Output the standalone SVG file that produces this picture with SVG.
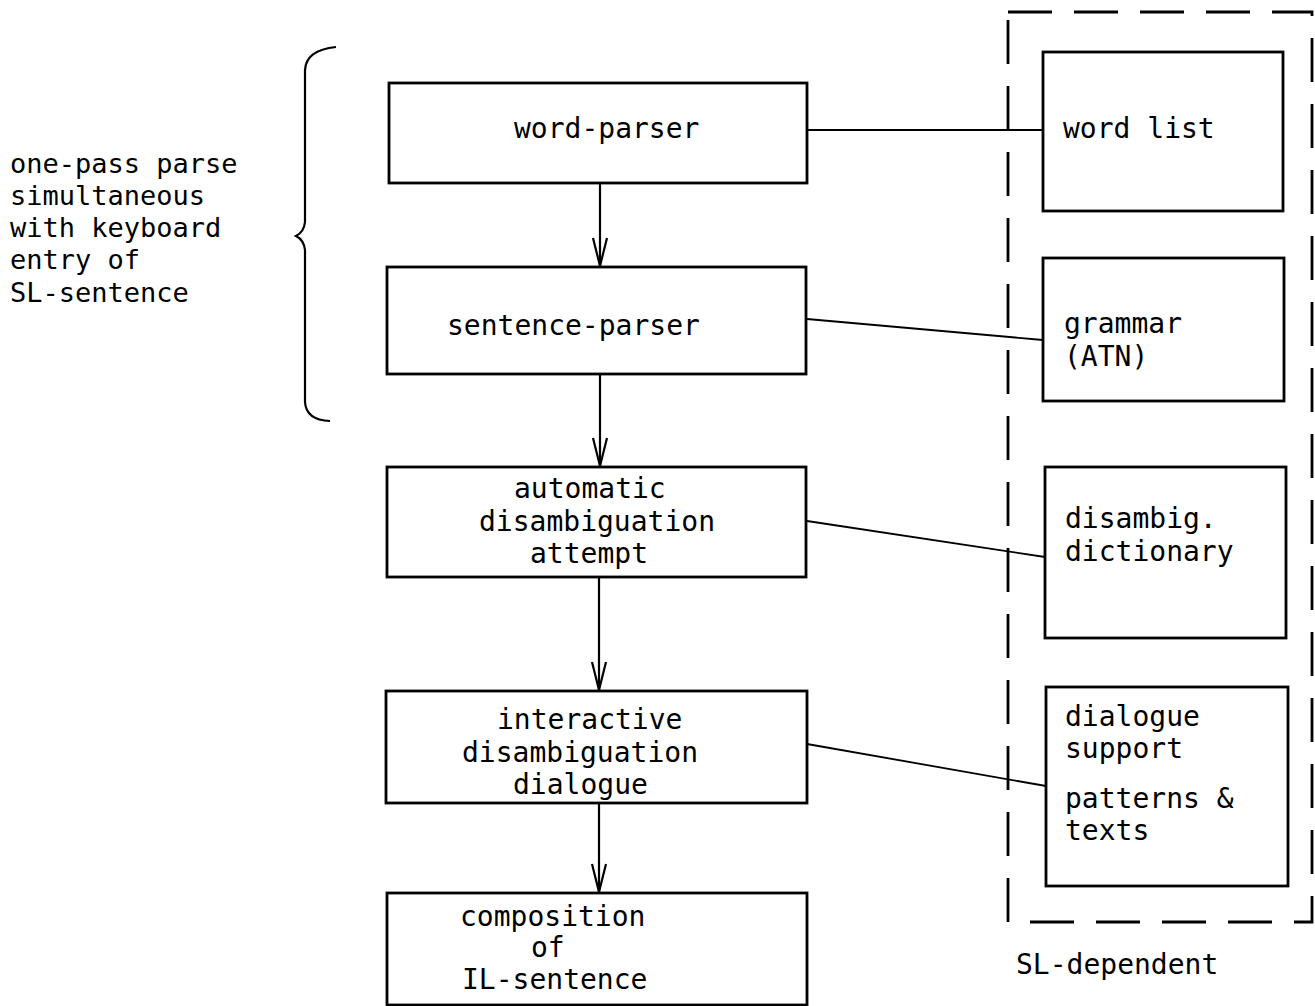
<svg xmlns="http://www.w3.org/2000/svg" width="1315" height="1006" viewBox="0 0 1315 1006">
<style>
.box{fill:none;stroke:#000;stroke-width:2.8}
.ln{fill:none;stroke:#000;stroke-width:1.8}
.arr{fill:none;stroke:#000;stroke-width:2.2}
.dash{fill:none;stroke:#000;stroke-width:2.8;stroke-dasharray:44 22}
text{font-family:"DejaVu Sans Mono","Liberation Mono",monospace;font-size:28px;fill:#000}
.side{font-size:27px}
</style>
<defs>
<marker id="v" markerWidth="32" markerHeight="18" refX="29" refY="9" orient="auto" markerUnits="userSpaceOnUse">
<path d="M1,2 L29,9 L1,16" fill="none" stroke="#000" stroke-width="2.2"/>
</marker>
</defs>
<rect width="1315" height="1006" fill="#fff"/>

<g id="brace">
<path class="arr" d="M336,47 Q306,50 305,70 L305,222 Q304,232 296,236 Q304,240 305,250 L305,402 Q306,420 330,421"/>
</g>
<g id="note">
<text class="side" x="10" y="173">one-pass parse</text>
<text class="side" x="10" y="205">simultaneous</text>
<text class="side" x="10" y="237">with keyboard</text>
<text class="side" x="10" y="269">entry of</text>
<text class="side" x="10" y="302">SL-sentence</text>
</g>

<g id="sl-dependent">
<rect class="dash" x="1008" y="12" width="304" height="910"/>
<text x="1016" y="974">SL-dependent</text>
</g>

<g id="word-parser">
<rect class="box" x="389" y="83" width="418" height="100"/>
<text x="514" y="138">word-parser</text>
</g>
<g id="sentence-parser">
<rect class="box" x="387" y="267" width="419" height="107"/>
<text x="447" y="335">sentence-parser</text>
</g>
<g id="automatic">
<rect class="box" x="387" y="467" width="419" height="110"/>
<text x="514" y="498">automatic</text>
<text x="479" y="531">disambiguation</text>
<text x="530" y="563">attempt</text>
</g>
<g id="interactive">
<rect class="box" x="386" y="691" width="421" height="112"/>
<text x="497" y="729">interactive</text>
<text x="462" y="762">disambiguation</text>
<text x="513" y="794">dialogue</text>
</g>
<g id="composition">
<rect class="box" x="387" y="893" width="420" height="112"/>
<text x="460" y="926">composition</text>
<text x="531" y="957">of</text>
<text x="462" y="989">IL-sentence</text>
</g>

<g id="word-list">
<rect class="box" x="1043" y="52" width="240" height="159"/>
<text x="1063" y="138">word list</text>
</g>
<g id="grammar">
<rect class="box" x="1043" y="258" width="241" height="143"/>
<text x="1064" y="333">grammar</text>
<text x="1064" y="366">(ATN)</text>
</g>
<g id="disambig-dictionary">
<rect class="box" x="1045" y="467" width="241" height="171"/>
<text x="1065" y="528">disambig.</text>
<text x="1065" y="561">dictionary</text>
</g>
<g id="dialogue-support">
<rect class="box" x="1046" y="687" width="242" height="199"/>
<text x="1065" y="726">dialogue</text>
<text x="1065" y="758">support</text>
<text x="1065" y="808">patterns &amp;</text>
<text x="1065" y="840">texts</text>
</g>

<g id="connectors">
<line class="arr" x1="600" y1="183" x2="600" y2="266" marker-end="url(#v)"/>
<line class="arr" x1="600" y1="375" x2="600" y2="466" marker-end="url(#v)"/>
<line class="arr" x1="599" y1="578" x2="599" y2="690" marker-end="url(#v)"/>
<line class="arr" x1="599" y1="804" x2="599" y2="892" marker-end="url(#v)"/>
<line class="ln" x1="807" y1="130" x2="1043" y2="130"/>
<line class="ln" x1="807" y1="319" x2="1043" y2="340"/>
<line class="ln" x1="807" y1="521" x2="1045" y2="557"/>
<line class="ln" x1="807" y1="744" x2="1046" y2="786"/>
</g>
</svg>
